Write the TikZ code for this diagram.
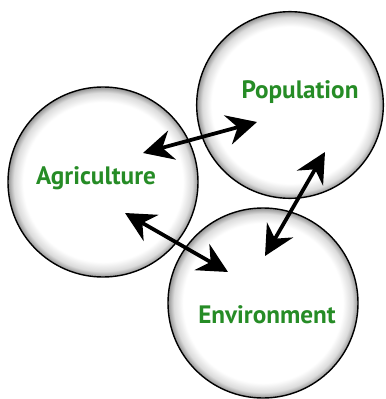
\documentclass[tikz,border=0pt]{standalone}
\usepackage{fontspec}
\setsansfont{PT Sans}
\usetikzlibrary{arrows.meta}
\definecolor{leafgreen}{RGB}{38,140,38}
\pgfdeclareradialshading{rimshade}{\pgfpoint{0bp}{0bp}}{color(0bp)=(white); color(21bp)=(white); color(23.5bp)=(black!14); color(25bp)=(black!42); color(50bp)=(black!42)}
\tikzset{>={Stealth[length=9mm,width=9mm,inset=3mm]}}
\tikzstyle{topic}=[circle,draw=black,line width=1.2pt,shading=rimshade,inner sep=0pt]
\tikzstyle{topiclabel}=[text=leafgreen,font=\sffamily\bfseries\fontsize{21.5}{24}\selectfont]
\tikzstyle{link}=[<->,line width=3.2pt]

\begin{document}
\begin{tikzpicture}[x=0.03cm,y=-0.03cm]
	\useasboundingbox (0,0) rectangle (385,399);

	\node[topic, minimum size=5.7cm] (agri) at (103,182) {};
	\node[topic, minimum size=5.6cm] (pop) at (290,105) {};
	\node[topic, minimum size=5.7cm] (env) at (263,303) {};

	\node[topiclabel] (agritext) at (96,178) {Agriculture};
	\node[topiclabel] (poptext) at (300,92) {Population};
	\node[topiclabel] (envtext) at (267,315) {Environment};

	% arrow ends
	\coordinate (ap1) at (143,153);
	\coordinate (ap2) at (257,122);
	\coordinate (ae1) at (125,213);
	\coordinate (ae2) at (228,272);
	\coordinate (pe1) at (325,152);
	\coordinate (pe2) at (265,256);

	\draw[link] (ap1) -- (ap2);
	\draw[link] (ae1) -- (ae2);
	\draw[link] (pe1) -- (pe2);
\end{tikzpicture}
\end{document}
